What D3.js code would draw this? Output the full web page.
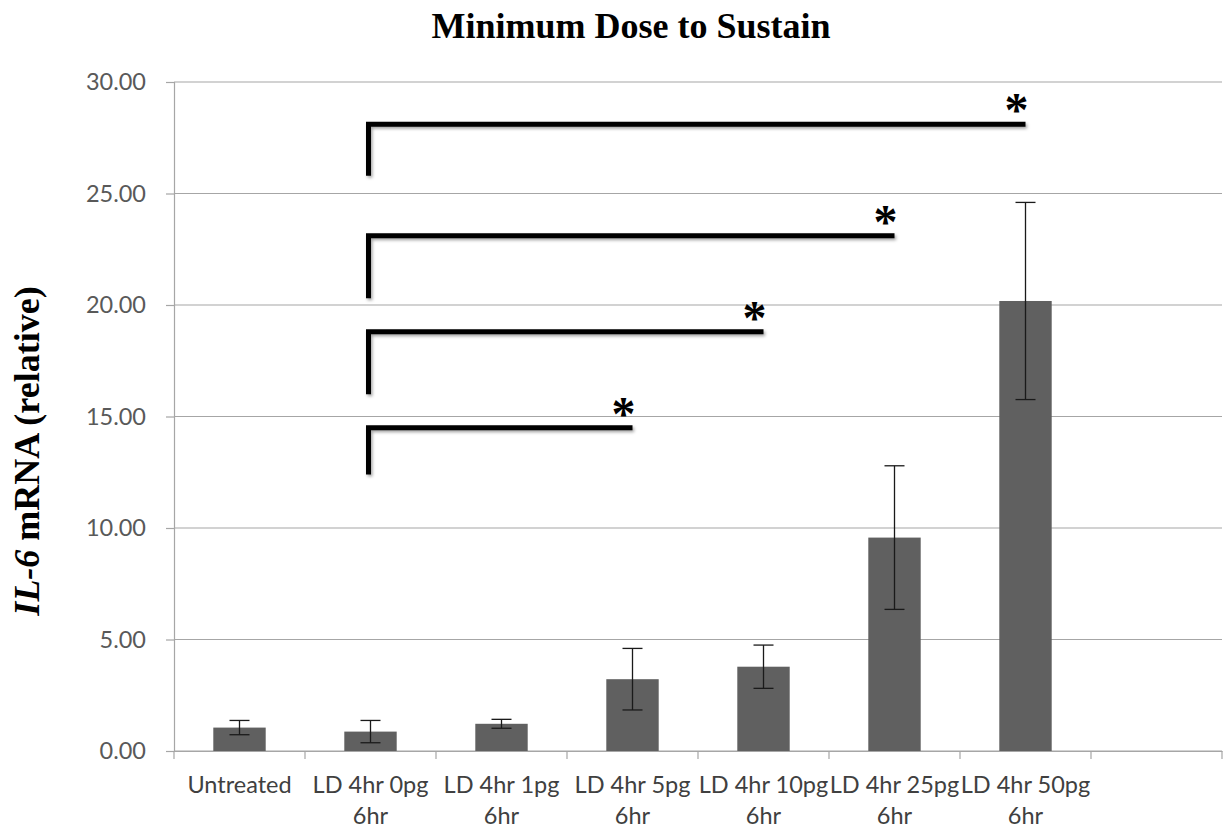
<!DOCTYPE html>
<html>
<head>
<meta charset="utf-8">
<script src="https://cdn.jsdelivr.net/npm/d3@7"></script>
<style>
  body { margin: 0; background: #fff; }
  svg { display: block; }
</style>
</head>
<body>
<div id="chart"></div>
<script>
// values
var categories = ["Untreated", "LD 4hr 0pg 6hr", "LD 4hr 1pg 6hr", "LD 4hr 5pg 6hr", "LD 4hr 10pg 6hr", "LD 4hr 25pg 6hr", "LD 4hr 50pg 6hr", ""]
var means = [1.05, 0.87, 1.22, 3.22, 3.78, 9.57, 20.18]
var errs = [0.32, 0.5, 0.2, 1.38, 0.97, 3.22, 4.42]
var yTicks = [0, 5, 10, 15, 20, 25, 30]
// significance brackets: from/to category index, bar height and left leg bottom (data units)
var brackets = [
  {from: 1, to: 6, top: 28.1, bottom: 25.8},
  {from: 1, to: 5, top: 23.1, bottom: 20.3},
  {from: 1, to: 4, top: 18.8, bottom: 16.0},
  {from: 1, to: 3, top: 14.5, bottom: 12.4}
]

const W = 1225, H = 831
const margin = {top: 82, right: 3, bottom: 80, left: 174}
const innerW = W - margin.left - margin.right, innerH = H - margin.top - margin.bottom
const tickFont = "Lato, 'Open Sans', sans-serif"

var svg = d3.select("#chart").append("svg").attr("width", W).attr("height", H)

var defs = svg.append("defs")
var f = defs.append("filter").attr("id", "shadow").attr("x", "-5%").attr("y", "-20%").attr("width", "110%").attr("height", "160%")
f.append("feDropShadow").attr("dx", 1.5).attr("dy", 2).attr("stdDeviation", 1.5).attr("flood-color", "#000").attr("flood-opacity", 0.35)

var g = svg.append("g").attr("transform", "translate(" + margin.left + "," + margin.top + ")")

var x = d3.scaleBand().domain(d3.range(categories.length)).range([0, innerW]).paddingInner(0).paddingOuter(0)
var y = d3.scaleLinear().domain([0, 30]).range([innerH, 0])

// gridlines
g.selectAll(".grid").data(yTicks).enter().append("line")
  .attr("x1", 0).attr("x2", innerW)
  .attr("y1", d => y(d)).attr("y2", d => y(d))
  .style("stroke", "#a6a6a6").style("stroke-width", 1.2)

// y axis
var yAxis = g.append("g").call(d3.axisLeft(y).tickValues(yTicks).tickFormat(d3.format(".2f")).tickSize(8).tickPadding(20))
yAxis.select(".domain").style("stroke", "#a6a6a6").style("stroke-width", 1.2)
yAxis.selectAll(".tick line").style("stroke", "#a6a6a6").style("stroke-width", 1.2)
yAxis.selectAll("text").style("font-family", tickFont).style("font-size", "23.5px").style("fill", "#595959")

// x axis
var xAxis = g.append("g").attr("transform", "translate(0," + innerH + ")")
  .call(d3.axisBottom(x).tickSize(0).tickFormat(""))
xAxis.select(".domain").style("stroke", "#a6a6a6").style("stroke-width", 1.2)
// ticks at band edges
g.selectAll(".xtick").data(d3.range(categories.length + 1)).enter().append("line")
  .attr("x1", d => d * x.bandwidth()).attr("x2", d => d * x.bandwidth())
  .attr("y1", innerH).attr("y2", innerH + 8)
  .style("stroke", "#a6a6a6").style("stroke-width", 1.2)

// category labels, wrapped like the original
var labels = g.selectAll(".xlab").data(categories).enter().append("text")
  .attr("text-anchor", "middle")
  .attr("transform", (d, i) => "translate(" + (x(i) + x.bandwidth() / 2) + "," + (innerH + 42) + ")")
  .style("font-family", tickFont).style("font-size", "23.5px").style("fill", "#404040")
labels.each(function (d) {
  var parts = d.endsWith(" 6hr") ? [d.slice(0, -4), "6hr"] : [d]
  var t = d3.select(this)
  parts.forEach((p, k) => t.append("tspan").attr("x", 0).attr("dy", k == 0 ? 0 : 31).text(p))
})

// bars
var bw = x.bandwidth() * 0.4
g.selectAll(".bar").data(means).enter().append("rect")
  .attr("x", (d, i) => x(i) + (x.bandwidth() - bw) / 2)
  .attr("y", d => y(d))
  .attr("width", bw)
  .attr("height", d => innerH - y(d))
  .style("fill", "#606060")

// error bars
var cap = 10
means.forEach(function (m, i) {
  var cx = x(i) + x.bandwidth() / 2
  var e = g.append("g").style("stroke", "#1a1a1a").style("stroke-width", 1.3)
  e.append("line").attr("x1", cx).attr("x2", cx).attr("y1", y(m + errs[i])).attr("y2", y(m - errs[i]))
  e.append("line").attr("x1", cx - cap).attr("x2", cx + cap).attr("y1", y(m + errs[i])).attr("y2", y(m + errs[i]))
  e.append("line").attr("x1", cx - cap).attr("x2", cx + cap).attr("y1", y(m - errs[i])).attr("y2", y(m - errs[i]))
})

// significance brackets
brackets.forEach(function (b) {
  var x0 = x(b.from) + x.bandwidth() / 2 - 2
  var x1 = x(b.to) + x.bandwidth() / 2
  g.append("path")
    .attr("d", d3.line()([[x0, y(b.bottom)], [x0, y(b.top)], [x1, y(b.top)]]))
    .style("fill", "none").style("stroke", "#000").style("stroke-width", 5)
    .attr("filter", "url(#shadow)")
  g.append("text").attr("x", x1 - 9).attr("y", y(b.top) + 2)
    .attr("text-anchor", "middle")
    .style("font-family", "'Liberation Serif', serif").style("font-weight", "bold").style("font-size", "48px")
    .text("*")
})

// title
svg.append("text").attr("x", 631).attr("y", 38).attr("text-anchor", "middle")
  .style("font-family", "'Liberation Serif', 'Times New Roman', serif").style("font-weight", "bold").style("font-size", "36px")
  .text("Minimum Dose to Sustain")

// y axis title
var yt = svg.append("text").attr("transform", "translate(39,451) rotate(-90)")
  .attr("text-anchor", "middle")
  .style("font-family", "'Liberation Serif', 'Times New Roman', serif").style("font-weight", "bold").style("font-size", "36px")
yt.append("tspan").style("font-style", "italic").text("IL-6")
yt.append("tspan").text(" mRNA (relative)")
</script>
</body>
</html>
